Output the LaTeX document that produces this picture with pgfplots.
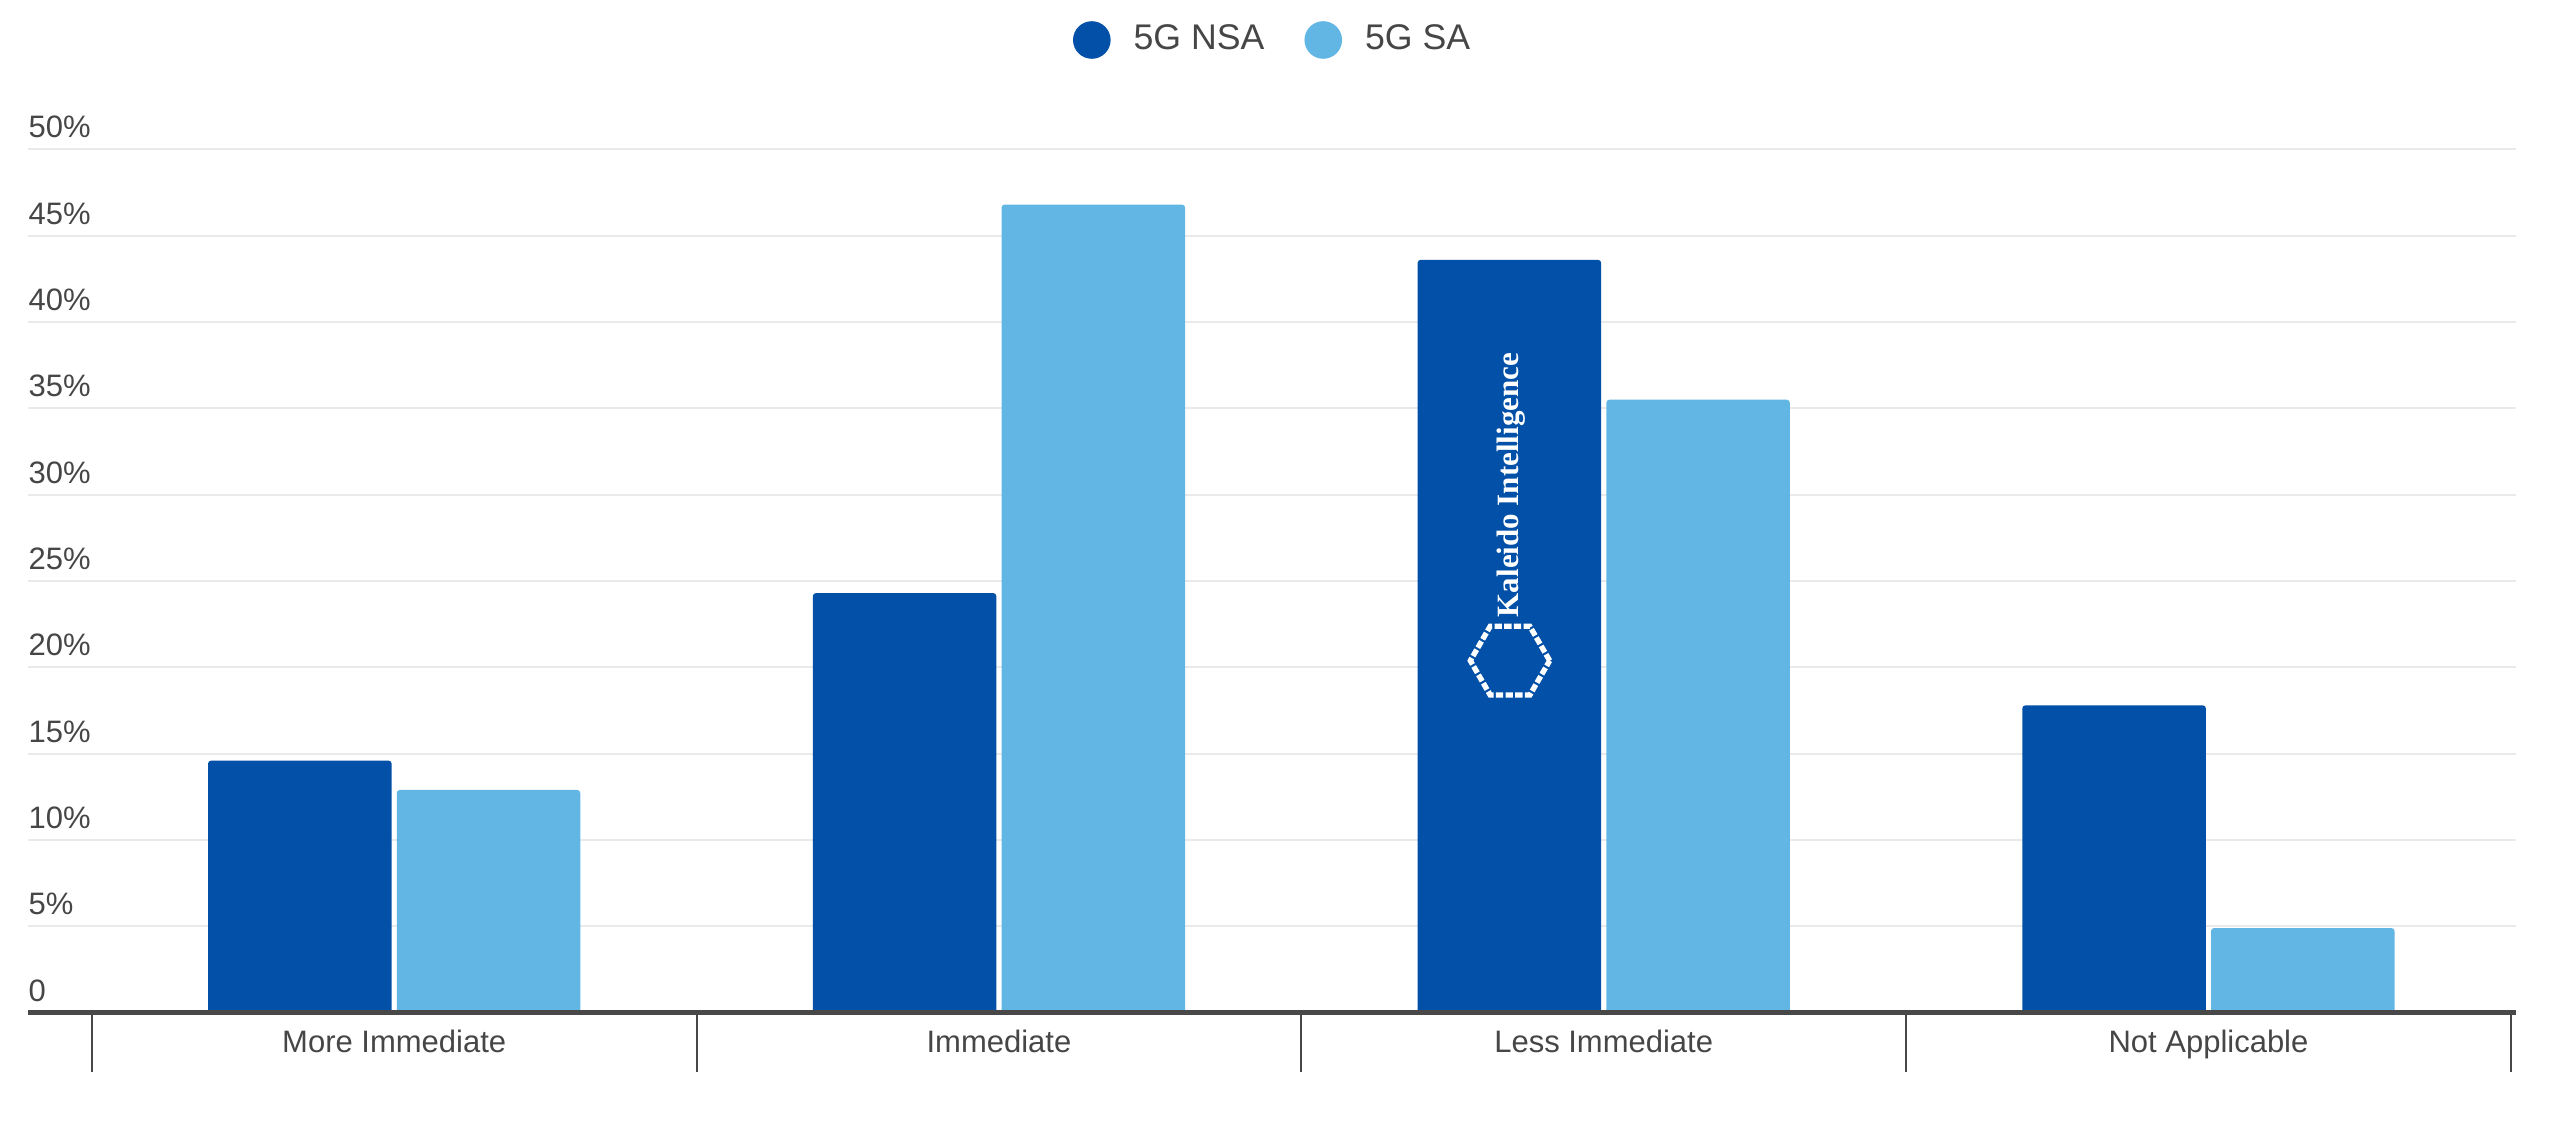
\documentclass[border=0pt]{standalone}
\usepackage{pgfplots}
\pgfplotsset{compat=1.18}
\usepackage{fontspec}
\setmainfont{Liberation Sans}
\newfontfamily\wmfont{Liberation Serif}
\definecolor{nsa}{RGB}{2,80,168}
\definecolor{sa}{RGB}{97,182,228}
\definecolor{txt}{RGB}{70,70,70}
\definecolor{gridc}{RGB}{234,234,234}
\definecolor{axc}{RGB}{72,72,72}
\pgfplotsset{circlegend/.style={legend image code/.code={\fill[##1] (5.64pt,0pt) circle (5.64pt);}}}
\begin{document}
\begin{tikzpicture}[x=1pt,y=1pt]
\path[use as bounding box] (0,0) rectangle (768,343.2);
\begin{axis}[
  at={(8.4pt,39.39pt)}, anchor=south west,
  scale only axis, width=746.3pt, height=259pt,
  xmin=-0.6055, xmax=3.508, ymin=0, ymax=50,
  axis line style={draw=none},
  clip=false,
  /pgf/number format/assume math mode=true,
  xtick={-0.5,0.5,1.5,2.5,3.5},
  x tick label as interval,
  xtick pos=bottom,
  xticklabels={More Immediate,Immediate,Less Immediate,Not Applicable},
  xtick style={draw=axc, line width=0.6pt},
  xtick align=outside,
  xmajorgrids=false,
  major tick length=17.7pt,
  xticklabel style={anchor=base, inner sep=0pt, yshift=5.7pt, font=\fontsize{9.3}{11}\selectfont, text=txt},
  ytick={0,5,10,15,20,25,30,35,40,45,50},
  yticklabels={0,5\%,10\%,15\%,20\%,25\%,30\%,35\%,40\%,45\%,50\%},
  ytick style={draw=none},
  yticklabel style={anchor=base west, inner sep=0pt, yshift=3.5pt, font=\fontsize{9.3}{11}\selectfont, text=txt},
  ymajorgrids, grid style={draw=gridc, line width=0.6pt},
  legend style={at={(0.4999,1.1267)}, anchor=center, draw=none, fill=none,
     legend columns=2, font=\fontsize{10.7}{12}\selectfont, text=txt,
     nodes={inner sep=0pt},
     /tikz/every odd column/.append style={column sep=6.9pt},
     /tikz/every even column/.append style={column sep=12pt}},
]
\addplot[ybar, bar width=55.05pt, bar shift=-28.3pt, fill=nsa, draw=none, rounded corners=0.9pt, circlegend]
  coordinates {(0,14.6) (1,24.3) (2,43.6) (3,17.8)};
\addlegendentry{5G NSA}
\addplot[ybar, bar width=55.05pt, bar shift=28.3pt, fill=sa, draw=none, rounded corners=0.9pt, circlegend]
  coordinates {(0,12.9) (1,46.8) (2,35.5) (3,4.9)};
\addlegendentry{5G SA}
\draw[draw=axc, line width=1.4pt] (axis cs:-0.6055,0) -- (axis cs:3.508,0);
\end{axis}
\node[rotate=90, anchor=base, inner sep=0pt, text=white, font=\wmfont\bfseries\fontsize{9.3}{11}\selectfont] at (455.4,197.7) {Kaleido Intelligence};
\draw[white, line width=1.6pt, dash pattern=on 2.2pt off 0.7pt, shift={(453,145)}]
  (0:11.9) -- (60:11.9) -- (120:11.9) -- (180:11.9) -- (240:11.9) -- (300:11.9) -- cycle;
\end{tikzpicture}
\end{document}
